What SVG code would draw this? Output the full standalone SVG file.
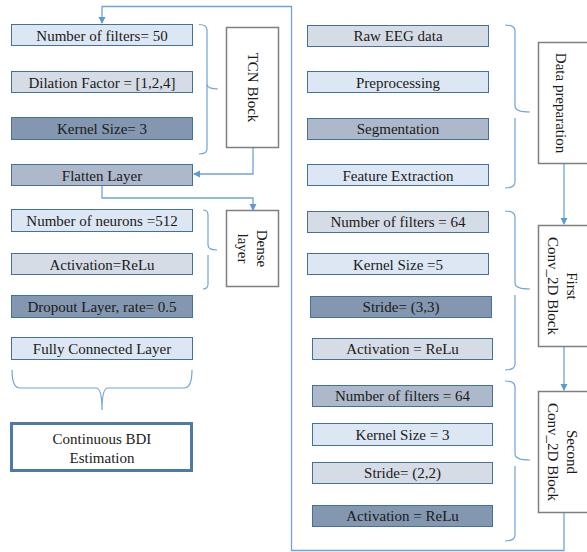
<svg xmlns="http://www.w3.org/2000/svg" width="587" height="552" viewBox="0 0 587 552">
<style>
.b{stroke:#41719c;stroke-width:1}
.c1{fill:#dde7f4}
.c2{fill:#d6dce5}
.c3{fill:#adb9ca}
.c4{fill:#8497b0}
.blk{fill:#fff;stroke:#7f7f7f;stroke-width:1.5}
text{font-family:'Liberation Serif','Tinos','Times New Roman','DejaVu Serif',serif;font-size:15px;fill:#1a1a1a;text-anchor:middle;dominant-baseline:central}
.br{fill:none;stroke:#6fa3d8;stroke-width:1.2}
.cn{fill:none;stroke:#6fa3d8;stroke-width:1.3}
</style>
<defs>
<marker id="ah" markerWidth="8" markerHeight="8" refX="6" refY="4" orient="auto" markerUnits="userSpaceOnUse">
<path d="M0,0.5 L7,4 L0,7.5 Z" fill="#5b9bd5"/>
</marker>
</defs>
<rect width="587" height="552" fill="#fff"/>

<g id="connectors">
<path class="cn" d="M564,513 V550.5 H291.5 V6.5 H102 V23" marker-end="url(#ah)"/>
<path class="cn" d="M253,148 V174 H194" marker-end="url(#ah)"/>
<path class="cn" d="M102,186 V198 H253 V210" marker-end="url(#ah)"/>
<path class="cn" d="M564,164 V224" marker-end="url(#ah)"/>
<path class="cn" d="M564,347 V390" marker-end="url(#ah)"/>
</g>

<g id="braces">
<path class="br" d="M199,24.5 Q207,24.5 207,30 V84 Q207,89 218,89 M207,84 Q207,89 207,94 V149 Q207,154 199,154"/>
<path class="br" d="M203,210 Q208,210 208,215 V245 Q208,250 217,250 M208,255 V284 Q208,289 203,289"/>
<path class="br" d="M505,25 Q515,25 515,31 V106 Q515,112 530,112 M515,118 V182 Q515,188 505,188"/>
<path class="br" d="M505,211 Q515,211 515,217 V283 Q515,289 530,289 M515,295 V364 Q515,370 505,370"/>
<path class="br" d="M505,381 Q515,381 515,387 V454 Q515,460 530,460 M515,466 V535 Q515,541 505,541"/>
<path class="br" d="M12,370 Q12,388 20,388 H96 Q102,388 102,410 M102,410 Q102,388 108,388 H184 Q192,388 192,370"/>
</g>

<g id="n-filters50"><rect class="b c1" x="11.5" y="24.5" width="181" height="21"/><text x="102" y="35.5">Number of filters= 50</text></g>
<g id="n-dilation"><rect class="b c2" x="11.5" y="71.5" width="181" height="21"/><text x="102" y="82.5">Dilation Factor = [1,2,4]</text></g>
<g id="n-kernel3a"><rect class="b c4" x="11.5" y="117.5" width="181" height="22"/><text x="102" y="129">Kernel Size= 3</text></g>
<g id="n-flatten"><rect class="b c3" x="11.5" y="164.5" width="181" height="21"/><text x="102" y="175.5">Flatten Layer</text></g>
<g id="n-tcn"><rect class="blk" x="226.5" y="27.5" width="52" height="120"/><text transform="translate(252.5,87.5) rotate(90)" x="0" y="0">TCN Block</text></g>

<g id="n-neurons"><rect class="b c1" x="11.5" y="209.5" width="181" height="22"/><text x="102" y="221">Number of neurons =512</text></g>
<g id="n-act1"><rect class="b c2" x="11.5" y="253.5" width="181" height="21"/><text x="102" y="264.5">Activation=ReLu</text></g>
<g id="n-dropout"><rect class="b c4" x="11.5" y="295.5" width="181" height="22"/><text x="102" y="306.5">Dropout Layer, rate= 0.5</text></g>
<g id="n-fc"><rect class="b c1" x="11.5" y="337.5" width="181" height="22"/><text x="102" y="348.5">Fully Connected Layer</text></g>
<g id="n-dense"><rect class="blk" x="226.5" y="210.5" width="52" height="76"/><text transform="translate(252.5,248.5) rotate(90)"><tspan x="0" y="-9.5">Dense</tspan><tspan x="0" y="9.5">layer</tspan></text></g>

<g id="n-bdi"><rect x="11.5" y="423.5" width="180" height="47" fill="#fff" stroke="#4f7aa8" stroke-width="3"/><text x="102" y="439">Continuous BDI</text><text x="102" y="458">Estimation</text></g>

<g id="n-raw"><rect class="b c2" x="307.5" y="25.5" width="181" height="21"/><text x="398" y="36">Raw EEG data</text></g>
<g id="n-prep"><rect class="b c1" x="307.5" y="71.5" width="181" height="21"/><text x="398" y="82.5">Preprocessing</text></g>
<g id="n-seg"><rect class="b c3" x="307.5" y="118.5" width="181" height="21"/><text x="398" y="129">Segmentation</text></g>
<g id="n-feat"><rect class="b c1" x="307.5" y="164.5" width="181" height="21"/><text x="398" y="175.5">Feature Extraction</text></g>
<g id="n-dataprep"><rect class="blk" x="538.5" y="42.5" width="60" height="121"/><text transform="translate(561,103) rotate(90)" x="0" y="0">Data preparation</text></g>

<g id="n-f64a"><rect class="b c2" x="307.5" y="211.5" width="181" height="21"/><text x="398" y="222">Number of filters = 64</text></g>
<g id="n-k5"><rect class="b c1" x="307.5" y="253.5" width="181" height="21"/><text x="398" y="264.5">Kernel Size =5</text></g>
<g id="n-s33"><rect class="b c4" x="310.5" y="296.5" width="181" height="21"/><text x="401" y="307">Stride= (3,3)</text></g>
<g id="n-act2"><rect class="b c2" x="312.5" y="338.5" width="180" height="21"/><text x="402.5" y="349">Activation = ReLu</text></g>
<g id="n-conv1"><rect class="blk" x="538.5" y="225.5" width="60" height="121"/><text transform="translate(562.5,286) rotate(90)"><tspan x="0" y="-9.5">First</tspan><tspan x="0" y="9.5">Conv_2D Block</tspan></text></g>

<g id="n-f64b"><rect class="b c3" x="312.5" y="385.5" width="180" height="21"/><text x="402.5" y="396">Number of filters = 64</text></g>
<g id="n-k3"><rect class="b c1" x="312.5" y="423.5" width="180" height="22"/><text x="402.5" y="434.5">Kernel Size = 3</text></g>
<g id="n-s22"><rect class="b c2" x="312.5" y="462.5" width="180" height="21"/><text x="402.5" y="473">Stride= (2,2)</text></g>
<g id="n-act3"><rect class="b c4" x="312.5" y="505.5" width="180" height="21"/><text x="402.5" y="516">Activation = ReLu</text></g>
<g id="n-conv2"><rect class="blk" x="538.5" y="391.5" width="60" height="121"/><text transform="translate(562.5,452) rotate(90)"><tspan x="0" y="-9.5">Second</tspan><tspan x="0" y="9.5">Conv_2D Block</tspan></text></g>
</svg>
